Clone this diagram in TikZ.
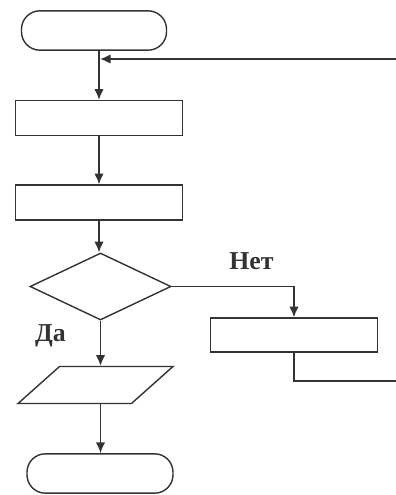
\documentclass[tikz,border=0pt]{standalone}
\usepackage{fontspec}
\setmainfont{Liberation Serif}
\usetikzlibrary{shapes.geometric,arrows.meta}

\begin{document}
\begin{tikzpicture}[x=0.03cm, y=-0.03cm, line width=1.2pt, color=black!80,
    box/.style={draw, minimum width=5cm, minimum height=1.05cm, inner sep=0pt},
    term/.style={draw, rounded corners=0.55cm, minimum height=1.18cm, inner sep=0pt},
    flow/.style={-{Latex[length=3.2mm,width=2.8mm]}},
    lbl/.style={font=\bfseries\fontsize{22}{22}\selectfont, anchor=base}]
  \useasboundingbox (0,0) rectangle (396,495);
  % blocks
  \node[term, minimum width=4.35cm] (start) at (94,30.5) {};
  \node[box] (rect1) at (99,118) {};
  \node[box] (rect2) at (99,202.5) {};
  \node[draw, diamond, minimum width=4.23cm, minimum height=2.01cm, inner sep=0pt] (check) at (100.5,286.5) {};
  \node[box, minimum height=1.02cm] (rect3) at (294,335) {};
  \node[draw, trapezium, trapezium left angle=60, trapezium right angle=120,
        trapezium stretches=true, minimum width=4.65cm, minimum height=1.11cm,
        inner sep=2pt] (out) at (95.5,385) {};
  \node[term, minimum width=4.38cm] (stop) at (100,473.5) {};
  % labels
  \node[lbl] (no) at (251.5,269) {Нет};
  \node[lbl] (yes) at (50.5,341) {Да};
  % loop ends at the edge
  \coordinate (back) at (396,59);
  \coordinate (merge) at (100,59);
  \coordinate (exit) at (396,381);
  % connectors
  \draw[flow] (start.south -| rect1.north) -- (rect1.north);
  \draw[flow] (rect1) -- (rect2);
  \draw[flow] (rect2.south) -- (rect2.south |- check.north);
  \draw[flow] (check.east) -| (rect3.north);
  \draw (rect3.south) |- (exit);
  \draw[flow] (back) -- (merge);
  \draw[flow] (check.south) -- (check.south |- out.north);
  \draw[flow] (check.south |- out.south) -- (check.south |- stop.north);
\end{tikzpicture}
\end{document}
